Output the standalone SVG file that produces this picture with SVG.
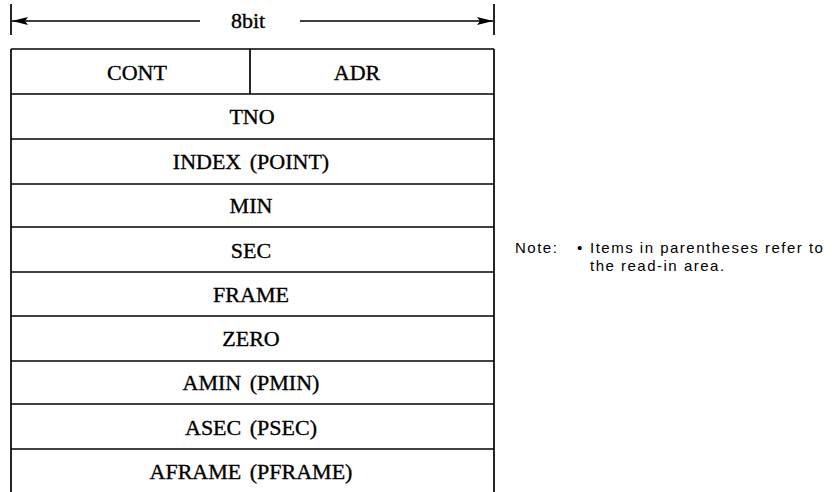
<svg xmlns="http://www.w3.org/2000/svg" width="832" height="492" viewBox="0 0 832 492">
<defs>
<marker id="ah" markerWidth="16" markerHeight="8" refX="16" refY="4" orient="auto-start-reverse" markerUnits="userSpaceOnUse">
<path d="M0,0 L16,4 L0,8 L3,4 Z" fill="#000"/>
</marker>
<style>
.ln{stroke:#000;stroke-width:1.7;fill:none}
.lbl{font-family:"Liberation Serif","DejaVu Serif",serif;font-size:22px;fill:#000;stroke:#000;stroke-width:0.35;text-anchor:middle}
.note{font-family:"Liberation Sans",Arial,sans-serif;font-size:15px;fill:#000;letter-spacing:1.5px}
</style>
</defs>
<rect width="832" height="492" fill="#fff"/>
<g id="width-dim">
<line class="ln" x1="11" y1="4" x2="11" y2="35"/>
<line class="ln" x1="494" y1="4" x2="494" y2="35"/>
<line class="ln" x1="200" y1="21" x2="12" y2="21" marker-end="url(#ah)"/>
<line class="ln" x1="300" y1="21" x2="493" y2="21" marker-end="url(#ah)"/>
<text class="lbl" x="248" y="28">8bit</text>
</g>
<g id="table">
<line class="ln" x1="11" y1="49" x2="11" y2="492"/>
<line class="ln" x1="494" y1="49" x2="494" y2="492"/>
<line class="ln" x1="11" y1="49" x2="494" y2="49"/>
<line class="ln" x1="250" y1="49" x2="250" y2="94"/>
<line class="ln" x1="11" y1="94" x2="494" y2="94"/>
<line class="ln" x1="11" y1="139" x2="494" y2="139"/>
<line class="ln" x1="11" y1="184" x2="494" y2="184"/>
<line class="ln" x1="11" y1="227" x2="494" y2="227"/>
<line class="ln" x1="11" y1="272" x2="494" y2="272"/>
<line class="ln" x1="11" y1="316" x2="494" y2="316"/>
<line class="ln" x1="11" y1="361" x2="494" y2="361"/>
<line class="ln" x1="11" y1="404" x2="494" y2="404"/>
<line class="ln" x1="11" y1="449" x2="494" y2="449"/>
</g>
<g id="cont"><text class="lbl" x="137" y="80">CONT</text></g>
<g id="adr"><text class="lbl" x="357" y="80">ADR</text></g>
<g id="tno"><text class="lbl" x="252" y="124">TNO</text></g>
<g id="index"><text class="lbl" x="251" y="169" word-spacing="3">INDEX (POINT)</text></g>
<g id="min"><text class="lbl" x="251" y="213">MIN</text></g>
<g id="sec"><text class="lbl" x="251" y="258">SEC</text></g>
<g id="frame"><text class="lbl" x="251" y="302">FRAME</text></g>
<g id="zero"><text class="lbl" x="251" y="346">ZERO</text></g>
<g id="amin"><text class="lbl" x="251" y="390" word-spacing="3">AMIN (PMIN)</text></g>
<g id="asec"><text class="lbl" x="251" y="435" word-spacing="3">ASEC (PSEC)</text></g>
<g id="aframe"><text class="lbl" x="251" y="479" word-spacing="3">AFRAME (PFRAME)</text></g>
<g id="note">
<text class="note" x="515" y="253">Note:</text>
<text class="note" x="577" y="253">•</text>
<text class="note" x="590" y="253">Items in parentheses refer to</text>
<text class="note" x="590" y="271">the read-in area.</text>
</g>
</svg>
